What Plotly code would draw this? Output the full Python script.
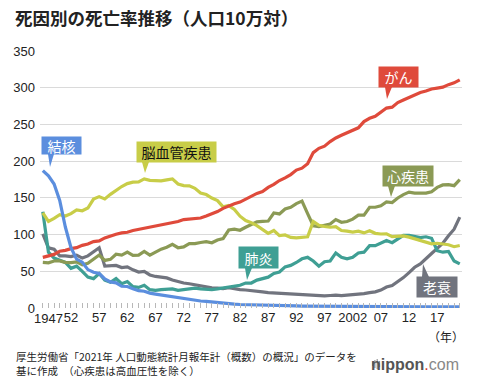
import plotly.graph_objects as go

years = list(range(1947, 2022))

cancer = [69.0, 70.8, 73.0, 77.4, 78.5, 80.8, 82.2, 85.3, 87.1, 90.4,
          91.3, 95.5, 98.2, 100.4, 102.3, 103.2, 105.5, 107.0, 108.4, 110.9,
          111.7, 113.7, 115.5, 116.3, 117.7, 120.4, 121.2, 122.2, 122.6, 125.3,
          128.4, 131.3, 135.7, 139.1, 142.0, 144.2, 148.3, 152.5, 156.1, 158.5,
          164.2, 168.4, 173.6, 177.2, 181.7, 187.8, 190.4, 196.4, 211.6, 217.5,
          220.4, 226.7, 231.6, 235.2, 238.8, 241.7, 245.4, 253.9, 258.3, 261.0,
          266.9, 272.3, 273.5, 279.7, 283.2, 286.6, 290.3, 293.5, 295.5, 298.3,
          299.5, 300.7, 304.2, 306.6, 310.7]

heart = [62.2, 61.6, 64.0, 64.2, 62.2, 61.9, 62.8, 58.9, 60.9, 65.9,
         72.1, 64.8, 66.3, 73.2, 72.1, 76.2, 71.7, 71.9, 77.0, 71.9,
         75.7, 80.2, 82.7, 86.7, 82.1, 83.2, 87.8, 87.6, 89.2, 90.3,
         88.8, 92.6, 94.5, 106.2, 107.4, 105.9, 110.0, 113.9, 117.3, 117.9,
         118.4, 129.4, 128.1, 134.8, 137.2, 142.2, 145.6, 128.6, 112.0, 110.8,
         112.2, 114.3, 120.4, 116.8, 117.8, 121.0, 126.5, 126.5, 137.2, 137.2,
         139.2, 144.4, 143.7, 149.8, 154.5, 157.9, 156.5, 157.0, 156.5, 158.4,
         164.3, 167.6, 167.9, 166.6, 174.9]

cerebro = [129.4, 117.9, 122.1, 127.1, 125.2, 128.5, 133.7, 132.4, 136.1, 148.4,
           151.7, 148.6, 154.8, 160.7, 165.4, 169.4, 171.4, 171.7, 175.8, 173.8,
           173.1, 173.1, 174.4, 175.8, 168.8, 166.7, 166.3, 163.0, 156.7, 154.5,
           149.8, 146.2, 137.7, 139.5, 134.3, 125.0, 119.0, 116.2, 112.2, 106.9,
           101.7, 105.5, 98.5, 99.4, 96.2, 95.6, 96.0, 96.9, 117.9, 112.6,
           111.0, 110.0, 110.8, 105.5, 104.7, 103.4, 104.7, 102.3, 105.3, 101.7,
           100.8, 100.9, 97.2, 97.7, 98.2, 96.5, 94.1, 91.1, 89.4, 87.4,
           88.2, 87.1, 86.1, 83.5, 85.2]

tb = [187.2, 179.9, 168.8, 146.4, 110.3, 82.2, 66.5, 62.4, 52.3, 48.6,
      46.9, 39.5, 35.5, 34.2, 29.6, 29.3, 26.3, 23.6, 22.8, 20.3,
      19.0, 17.8, 16.9, 15.4, 13.7, 12.4, 11.5, 10.5, 9.5, 8.9,
      8.0, 7.5, 6.8, 5.5, 5.3, 4.8, 4.5, 4.4, 3.9, 3.7,
      3.5, 3.2, 3.1, 3.0, 2.8, 2.8, 2.6, 2.6, 2.6, 2.3,
      2.2, 2.2, 2.3, 2.1, 2.0, 1.8, 1.9, 1.8, 1.8, 1.8,
      1.7, 1.8, 1.8, 1.7, 1.7, 1.7, 1.7, 1.7, 1.6, 1.5,
      1.8, 1.8, 1.7, 1.5, 1.5]

pneumonia = [131.0, 76.0, 68.0, 65.0, 62.0, 54.0, 57.0, 50.0, 42.0, 40.0,
             47.0, 38.0, 35.0, 40.0, 33.0, 36.0, 29.0, 28.0, 31.0, 25.0,
             24.0, 25.0, 26.0, 26.0, 24.0, 25.0, 26.0, 27.0, 26.0, 25.0,
             25.0, 26.0, 27.0, 29.0, 30.0, 31.0, 34.0, 34.0, 38.0, 40.0,
             42.0, 47.0, 49.0, 56.0, 58.0, 62.0, 67.0, 69.0, 64.0, 57.0,
             63.0, 64.0, 75.0, 69.0, 67.0, 69.0, 75.0, 76.0, 85.0, 85.0,
             88.0, 92.0, 89.0, 94.0, 99.0, 99.0, 97.0, 96.0, 97.0, 95.0,
             78.0, 76.0, 77.0, 64.0, 60.0]

senility = [101.0, 82.0, 80.0, 71.0, 71.0, 70.0, 72.0, 68.0, 71.0, 77.0,
            82.0, 57.0, 57.0, 58.0, 55.0, 56.0, 52.0, 49.0, 50.0, 45.0,
            43.0, 42.0, 41.0, 38.1, 36.0, 34.0, 33.0, 31.5, 30.3, 29.0,
            27.5, 27.0, 26.5, 27.6, 26.0, 25.0, 24.5, 24.0, 23.0, 22.0,
            21.0, 20.5, 20.0, 19.7, 19.0, 18.5, 18.0, 17.5, 17.3, 16.0,
            16.5, 17.0, 17.5, 16.9, 17.5, 18.0, 18.5, 19.5, 20.9, 22.0,
            24.4, 28.6, 30.7, 35.9, 41.4, 48.2, 55.5, 60.1, 67.7, 74.2,
            81.3, 88.2, 98.5, 107.3, 123.8]

series_names = ["老衰", "肺炎", "心疾患", "脳血管疾患", "がん", "結核"]
series_values = [senility, pneumonia, heart, cerebro, cancer, tb]
series_colors = ["#71747e", "#3f9f94", "#8b9a55", "#c8cd48", "#df4a3b", "#5b8ede"]

tick_years = [1947, 1952, 1957, 1962, 1967, 1972, 1977, 1982, 1987, 1992, 1997, 2002, 2007, 2012, 2017]
tick_labels = ["1947", "52", "57", "62", "67", "72", "77", "82", "87", "92", "97", "2002", "07", "12", "17"]

# layout geometry
W, H = 480, 381
L, R, T, B = 40, 18, 51, 73
XR = [1946.5, 2021.4]
YR = [0, 350]
PW, PH = W - L - R, H - T - B


def ppx(px):
    return (px - L) / PW


def ppy(py):
    return (H - B - py) / PH


FONT = "Liberation Sans, Noto Sans CJK JP, sans-serif"
JFONT = "Noto Sans CJK JP, sans-serif"

fig = go.Figure()
for name, vals, col in zip(series_names, series_values, series_colors):
    fig.add_trace(go.Scatter(x=years, y=vals, mode="lines", name=name,
                             line=dict(color=col, width=3.2), hoverinfo="skip"))

# the first label ("1947") is drawn slightly right of its tick, as in the original
tickvals = years
ticktext = [tick_labels[tick_years.index(y)] if (y in tick_years and y != tick_years[0]) else "" for y in years]

fig.update_layout(
    width=W, height=H,
    margin=dict(l=L, r=R, t=T, b=B),
    paper_bgcolor="white", plot_bgcolor="white",
    showlegend=False,
    font=dict(family=FONT, size=13, color="#222"),
    xaxis=dict(range=XR, tickvals=tickvals, ticktext=ticktext, ticks="inside",
               ticklen=5, tickcolor="#b8b8b8", tickwidth=1, showgrid=False, tickangle=0,
               zeroline=False, showline=False, tickfont=dict(size=13, color="#222")),
    yaxis=dict(range=YR, tickvals=[0, 50, 100, 150, 200, 250, 300, 350],
               showgrid=True, gridcolor="#dadada", gridwidth=1, zeroline=False,
               showline=False, ticks="", tickfont=dict(size=13, color="#222"),
               ticklabelstandoff=4),
)
fig.add_annotation(x=tick_years[0], y=0, xref="x", yref="y", xshift=6, yshift=-10,
                   text=tick_labels[0], showarrow=False, xanchor="center", yanchor="middle",
                   font=dict(family=FONT, size=13, color="#222"))

callouts = [
    ("結核", "#5b8ede", "white", (42, 137, 81, 154), (48, 54, 154, 50, 167)),
    ("脳血管疾患", "#c8cd48", "#111", (137, 142, 216, 162), (142, 149, 162, 145, 173)),
    ("がん", "#df4a3b", "white", (379, 67, 418, 87), (385, 392, 87, 387, 99)),
    ("心疾患", "#8b9a55", "white", (383, 166, 433, 186), (388, 395, 186, 391, 197)),
    ("肺炎", "#3f9f94", "white", (239, 247, 278, 268), (245, 252, 268, 247, 280)),
    ("老衰", "#71747e", "white", (417, 277, 457, 297), (422, 429, 277, 423, 264)),
]
for txt, col, tcol, (x0, y0, x1, y1), (bx0, bx1, by, tx, ty) in callouts:
    fig.add_annotation(x=ppx((x0 + x1) / 2), y=ppy((y0 + y1) / 2), xref="paper", yref="paper",
                       text=txt, showarrow=False, bgcolor=col, width=x1 - x0, height=y1 - y0,
                       borderpad=0, font=dict(family=JFONT, size=14, color=tcol),
                       xanchor="center", yanchor="middle")
    path = "M {} {} L {} {} L {} {} Z".format(ppx(bx0), ppy(by), ppx(bx1), ppy(by), ppx(tx), ppy(ty))
    fig.add_shape(type="path", path=path, xref="paper", yref="paper",
                  fillcolor=col, line=dict(width=0))

fig.add_annotation(x=ppx(13), y=ppy(17), xref="paper", yref="paper", xanchor="left", yanchor="middle",
                   text="<b>死因別の死亡率推移（人口10万対）</b>", showarrow=False,
                   font=dict(family=JFONT, size=17.5, color="#222"))
fig.add_annotation(x=ppx(446), y=ppy(336), xref="paper", yref="paper", xanchor="center", yanchor="middle",
                   text="（年）", showarrow=False, font=dict(family=JFONT, size=12, color="#222"))
fig.add_annotation(x=ppx(14), y=ppy(356), xref="paper", yref="paper", xanchor="left", yanchor="middle",
                   text="厚生労働省「2021年 人口動態統計月報年計（概数）の概況」のデータを",
                   showarrow=False, font=dict(family=JFONT, size=10.5, color="#222"))
fig.add_annotation(x=ppx(14), y=ppy(370), xref="paper", yref="paper", xanchor="left", yanchor="middle",
                   text="基に作成　（心疾患は高血圧性を除く）",
                   showarrow=False, font=dict(family=JFONT, size=10.5, color="#222"))
fig.add_annotation(x=ppx(461), y=ppy(364), xref="paper", yref="paper", xanchor="right", yanchor="middle",
                   text="<b>nippon</b><span style='color:#d93a2b'>.</span><span style='color:#888'>com</span>",
                   showarrow=False, font=dict(family="Liberation Sans, sans-serif", size=16, color="#555"))
for i, hgt in enumerate([4, 8, 10, 6]):
    cx = 372 + i * 2.3
    fig.add_shape(type="rect", xref="paper", yref="paper",
                  x0=ppx(cx), x1=ppx(cx + 1.2), y0=ppy(364 + hgt / 2), y1=ppy(364 - hgt / 2),
                  fillcolor="#999", line=dict(width=0))

fig.write_html("out.html", config={"displayModeBar": False},
               post_script="document.body.style.margin='0';document.body.style.overflow='hidden';")
